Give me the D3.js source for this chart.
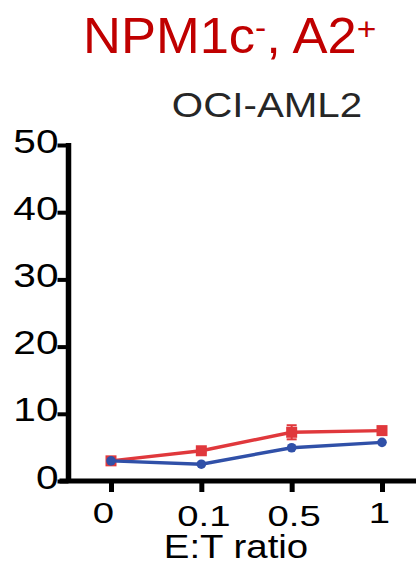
<!DOCTYPE html>
<html>
<head>
<meta charset="utf-8">
<script src="https://cdn.jsdelivr.net/npm/d3@7"></script>
<style>
  body { margin: 0; background: #fff; }
  svg { display: block; font-family: "Liberation Sans", Arial, sans-serif; }
</style>
</head>
<body>
<svg id="chart" width="416" height="565"></svg>
<script>
// E:T ratios (categorical x)
const ratios = ['0', '0.1', '0.5', '1'];
const redValues = [3.0, 4.5, 7.25, 7.5];
const redErrors = [0.2, 0.3, 1.05, 0.3];
const blueValues = [3.0, 2.5, 4.95, 5.75];
const yTicks = [0, 10, 20, 30, 40, 50];

const svg = d3.select('#chart');

const x = d3.scalePoint().domain(ratios).range([111, 382]);
const y = d3.scaleLinear().domain([0, 50]).range([481, 145]);
const axisX = 68.5;

// title
const title = svg.append('text')
  .attr('transform', 'translate(83,53) scale(1.05,1)')
  .attr('fill', '#c00000')
  .attr('font-size', 50);
title.append('tspan').text('NPM1c');
title.append('tspan').attr('font-size', 32).attr('dy', -15).text('-');
title.append('tspan').attr('dy', 15).text(', A2');
title.append('tspan').attr('font-size', 32).attr('dy', -13).text('+');

svg.append('text')
  .attr('transform', 'translate(267,117) scale(1.12,1)')
  .attr('text-anchor', 'middle')
  .attr('fill', '#262626')
  .attr('font-size', 36)
  .text('OCI-AML2');

// y axis
const gy = svg.append('g')
  .attr('transform', `translate(${axisX},0)`)
  .call(d3.axisLeft(y).tickValues(yTicks).tickSize(11).tickSizeOuter(0));
gy.select('.domain').attr('stroke', '#000').attr('stroke-width', 5.5)
  .attr('d', `M0,${y(50) - 2}V${y(0)}`);
gy.selectAll('.tick line').attr('stroke', '#000').attr('stroke-width', 4);
gy.selectAll('.tick text')
  .attr('x', 0).attr('dy', null).attr('y', 0)
  .attr('transform', 'translate(-10,7) scale(1.23,1)')
  .attr('font-size', 33)
  .attr('font-family', '"Liberation Sans", Arial, sans-serif')
  .attr('fill', '#000');

// x axis
const gx = svg.append('g')
  .attr('transform', `translate(0,${y(0)})`)
  .call(d3.axisBottom(x).tickSize(11).tickSizeOuter(0));
gx.select('.domain').attr('stroke', '#000').attr('stroke-width', 5)
  .attr('d', `M${axisX - 9},0H416`);
gx.selectAll('.tick line').attr('stroke', '#000').attr('stroke-width', 5);
gx.selectAll('.tick text')
  .attr('y', 0).attr('dy', null)
  .attr('transform', d => `translate(${d === '0' ? -8 : d === '1' ? -3 : 2},${d === '0' || d === '1' ? 42 : 45}) scale(1.32,1)`)
  .attr('font-size', 29)
  .attr('font-family', '"Liberation Sans", Arial, sans-serif')
  .attr('fill', '#000');

svg.append('text')
  .attr('transform', 'translate(236,558) scale(1.13,1)')
  .attr('text-anchor', 'middle')
  .attr('font-size', 34)
  .attr('fill', '#000')
  .text('E:T ratio');

const line = d3.line().x((d, i) => x(ratios[i])).y(d => y(d));

// red series (squares)
const red = '#e0383c';
svg.append('path').datum(redValues)
  .attr('fill', 'none').attr('stroke', red).attr('stroke-width', 3.4)
  .attr('d', line);
const errG = svg.append('g').attr('stroke', red).attr('stroke-width', 2);
redValues.forEach((v, i) => {
  const cx = x(ratios[i]);
  errG.append('line').attr('x1', cx).attr('x2', cx).attr('y1', y(v + redErrors[i])).attr('y2', y(v - redErrors[i]));
  errG.append('line').attr('x1', cx - 5).attr('x2', cx + 5).attr('y1', y(v + redErrors[i])).attr('y2', y(v + redErrors[i]));
  errG.append('line').attr('x1', cx - 5).attr('x2', cx + 5).attr('y1', y(v - redErrors[i])).attr('y2', y(v - redErrors[i]));
});
svg.append('g').selectAll('rect').data(redValues).join('rect')
  .attr('x', (d, i) => x(ratios[i]) - 5.5)
  .attr('y', d => y(d) - 5.5)
  .attr('width', 11).attr('height', 11)
  .attr('fill', red);

// blue series (circles)
const blue = '#3050a8';
svg.append('path').datum(blueValues)
  .attr('fill', 'none').attr('stroke', blue).attr('stroke-width', 3.4)
  .attr('d', line);
svg.append('g').selectAll('circle').data(blueValues).join('circle')
  .attr('cx', (d, i) => x(ratios[i]))
  .attr('cy', d => y(d))
  .attr('r', 4.8)
  .attr('fill', blue);
</script>
</body>
</html>
